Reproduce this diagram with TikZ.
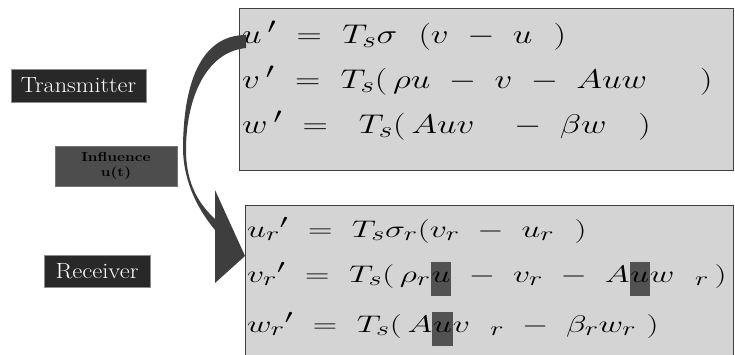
\documentclass[tikz,border=0pt]{standalone}
\usetikzlibrary{positioning}

\definecolor{eqgray}{HTML}{D4D4D4}
\definecolor{lbldark}{HTML}{282828}
\definecolor{infgray}{HTML}{4D4D4D}
\definecolor{arrgray}{HTML}{3E3E3E}
\definecolor{hlgray}{HTML}{525252}

\newcommand{\widen}[2]{\scalebox{#1}[1]{#2}}
\newcommand{\eqtop}[1]{\scalebox{1.41}[1.085]{#1}}
\newcommand{\eqbot}[1]{\scalebox{1.36}[0.965]{#1}}
\newcommand{\hlu}{\mbox{\setlength{\fboxsep}{0pt}\colorbox{hlgray}{\rule[-15pt]{0pt}{36pt}\makebox[15pt]{$u$}}}}

\begin{document}
\begin{tikzpicture}[
  x=1pt, y=-1pt,
  eqbox/.style={draw=black!75, line width=0.9pt, fill=eqgray, inner sep=0pt, outer sep=0pt},
  eqline/.style={anchor=base west, inner sep=0pt, font=\fontsize{24.88}{30}\selectfont},
  lbl/.style={draw=black!45, fill=lbldark, text=white, inner sep=0pt,
              font=\fontsize{22}{25}\selectfont},
  infl/.style={draw=black!55, fill=infgray, text=black, align=center, inner sep=0pt,
               font=\bfseries\fontsize{13}{15}\selectfont}
]
\useasboundingbox (0,0) rectangle (735,354);

% equation boxes
\node[eqbox, minimum width=494pt, minimum height=162pt] (txbox) at (486,89) {};
\node[eqbox, minimum width=488pt, minimum height=155pt] (rxbox) at (489,282.5) {};

% transmitter system
\node[eqline] (tx1) at (242,43) {\eqtop{$u\,{}'\ =\ T_s\sigma\ \ (v\ -\ u\ \ )$}};
\node[eqline] (tx2) at (242,88) {\eqtop{$v\,{}'\ =\ T_s(\,\rho u\ -\ v\ -\ Auw\ \ \ \ \ )$}};
\node[eqline] (tx3) at (242,133) {\eqtop{$w\,{}'\ =\ \ T_s(\,Auv\ \ \ -\ \beta w\ \ \ )$}};

% receiver system
\node[eqline] (rx1) at (247,237) {\eqbot{$u_r{}'\ =\ T_s\sigma_r(v_r\ -\ u_r\ \ )$}};
\node[eqline] (rx2) at (247,282) {\eqbot{$v_r{}'\ =\ T_s(\,\rho_r\hlu\ -\ v_r\ -\ A\hlu w\ \ {}_r\,)$}};
\node[eqline] (rx3) at (247,332) {\eqbot{$w_r{}'\ =\ T_s(\,A\hlu v\ \ {}_r\ -\ \beta_r w_r\ )$}};

% labels
\node[lbl, minimum width=135pt, minimum height=33pt] (trans) at (78.5,85.5) {\widen{1.1}{Transmitter}};
\node[infl, minimum width=122pt, minimum height=40pt] (infl) at (116,166) {\widen{1.2}{Influence}\\\widen{1.2}{u(t)}};
\node[lbl, minimum width=106pt, minimum height=32pt] (recv) at (97,271) {\widen{1.12}{Receiver}};

% curved influence arrow
\fill[arrgray] (246,35) .. controls (200,35) and (183,85) .. (183,150)
  .. controls (184,185) and (200,212) .. (215,230) -- (215,283) -- (245,256)
  -- (215,190) -- (215,219) .. controls (200,205) and (186,185) .. (186,150)
  .. controls (186,100) and (205,52) .. (246,48) -- cycle;
\end{tikzpicture}
\end{document}
